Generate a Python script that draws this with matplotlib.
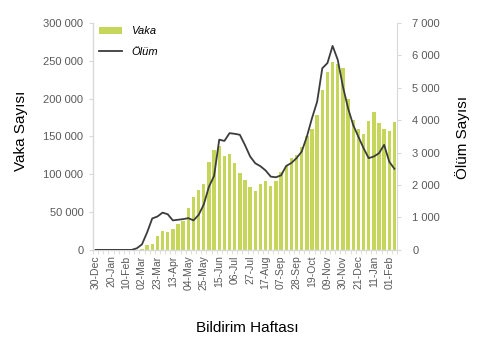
import numpy as np
import matplotlib
matplotlib.use('Agg')
import matplotlib.pyplot as plt
import matplotlib.ticker as mticker
from matplotlib.patches import Patch
from matplotlib.lines import Line2D

# weekly labels (every 3rd week shown)
week_labels = ['30-Dec', '20-Jan', '10-Feb', '02-Mar', '23-Mar', '13-Apr', '04-May',
               '25-May', '15-Jun', '06-Jul', '27-Jul', '17-Aug', '07-Sep', '28-Sep',
               '19-Oct', '09-Nov', '30-Nov', '21-Dec', '11-Jan', '01-Feb']

# weekly case counts (Vaka)
vaka = [0, 0, 0, 0, 0, 0, 0, 0, 0,
        1500, 6600, 7500, 18500, 25000, 23300, 27600, 34000, 38600, 54800,
        70000, 78800, 87300, 116000, 132000, 137000, 124300, 126500, 115500, 101000,
        93000, 83000, 77600, 87000, 90800, 85000, 90800, 103000, 110500, 121000,
        126000, 136000, 150000, 160000, 178500, 211000, 235500, 248700, 246000, 240000,
        199500, 172000, 160000, 153500, 171000, 182000, 168000, 160000, 156600, 169000]

# weekly deaths (Ölüm)
olum = [0, 0, 0, 0, 0, 0, 0, 0, 50,
        170, 540, 970, 1030, 1150, 1100, 910, 930, 950, 980,
        910, 1080, 1400, 1950, 2280, 3400, 3360, 3600, 3580, 3550,
        3230, 2880, 2670, 2580, 2450, 2260, 2240, 2300, 2590, 2680,
        2830, 3030, 3490, 4060, 4570, 5600, 5760, 6290, 5860, 5040,
        4370, 3850, 3490, 3140, 2830, 2880, 2980, 3240, 2720, 2500]

BAR_COLOR = '#c5d65b'
LINE_COLOR = '#3c3c3c'
GRID_GRAY = '#d9d9d9'
TICK_GRAY = '#595959'

plt.rcParams['font.family'] = ['Liberation Sans', 'DejaVu Sans']


def thousands(v, _):
    return f'{int(v):,}'.replace(',', ' ')


fig = plt.figure(figsize=(4.82, 3.52), dpi=100)
ax = fig.add_axes([93 / 482, 0.290, 304 / 482, 0.645])
x = np.arange(len(vaka))
ax.bar(x, vaka, width=0.66, color=BAR_COLOR, zorder=2)
ax.set_xlim(-0.5, len(vaka) - 0.5)
ax.set_ylim(0, 300000)
ax.yaxis.set_major_locator(mticker.MultipleLocator(50000))
ax.yaxis.set_major_formatter(mticker.FuncFormatter(thousands))

ax.set_xticks(np.arange(0, len(vaka), 3))
ax.set_xticklabels(week_labels, rotation=90)
ax.set_xticks(np.arange(-0.5, len(vaka), 1), minor=True)
ax.tick_params(axis='x', which='major', length=0, pad=4, labelsize=7.5, labelcolor=TICK_GRAY)
ax.tick_params(axis='x', which='minor', length=3, color=GRID_GRAY)
ax.tick_params(axis='y', length=3, color=GRID_GRAY, labelsize=8, labelcolor=TICK_GRAY, pad=4)

for s in ['top', 'right']:
    ax.spines[s].set_visible(False)
for s in ['left', 'bottom']:
    ax.spines[s].set_color(GRID_GRAY)
    ax.spines[s].set_linewidth(1.0)

ax2 = ax.twinx()
ax2.plot(x, olum, color=LINE_COLOR, lw=1.3, zorder=3)
ax2.set_ylim(0, 7000)
ax2.yaxis.set_major_locator(mticker.MultipleLocator(1000))
ax2.yaxis.set_major_formatter(mticker.FuncFormatter(thousands))
ax2.tick_params(axis='y', length=3, color=GRID_GRAY, labelsize=8, labelcolor=TICK_GRAY, pad=8)
for s in ['top', 'left', 'bottom']:
    ax2.spines[s].set_visible(False)
ax2.spines['right'].set_color(GRID_GRAY)

handles = [Patch(facecolor=BAR_COLOR, edgecolor='none'),
           Line2D([0], [0], color=LINE_COLOR, lw=1.3)]
fig.legend(handles, ['Vaka', 'Ölüm'], loc='upper left',
           bbox_to_anchor=(99 / 482, 1 - 26 / 352), frameon=False,
           prop={'style': 'italic', 'size': 8}, handlelength=2.1,
           handleheight=0.6, handletextpad=0.8, labelspacing=1.0, borderpad=0,
           borderaxespad=0)

fig.text(21 / 482, 1 - 131 / 352, 'Vaka Sayısı', rotation=90, ha='center', va='center', fontsize=11)
fig.text(463 / 482, 1 - 137 / 352, 'Ölüm Sayısı', rotation=90, ha='center', va='center', fontsize=11)
fig.text(247 / 482, 1 - 328 / 352, 'Bildirim Haftası', ha='center', va='center', fontsize=11)

fig.savefig('out.png', dpi=100)
